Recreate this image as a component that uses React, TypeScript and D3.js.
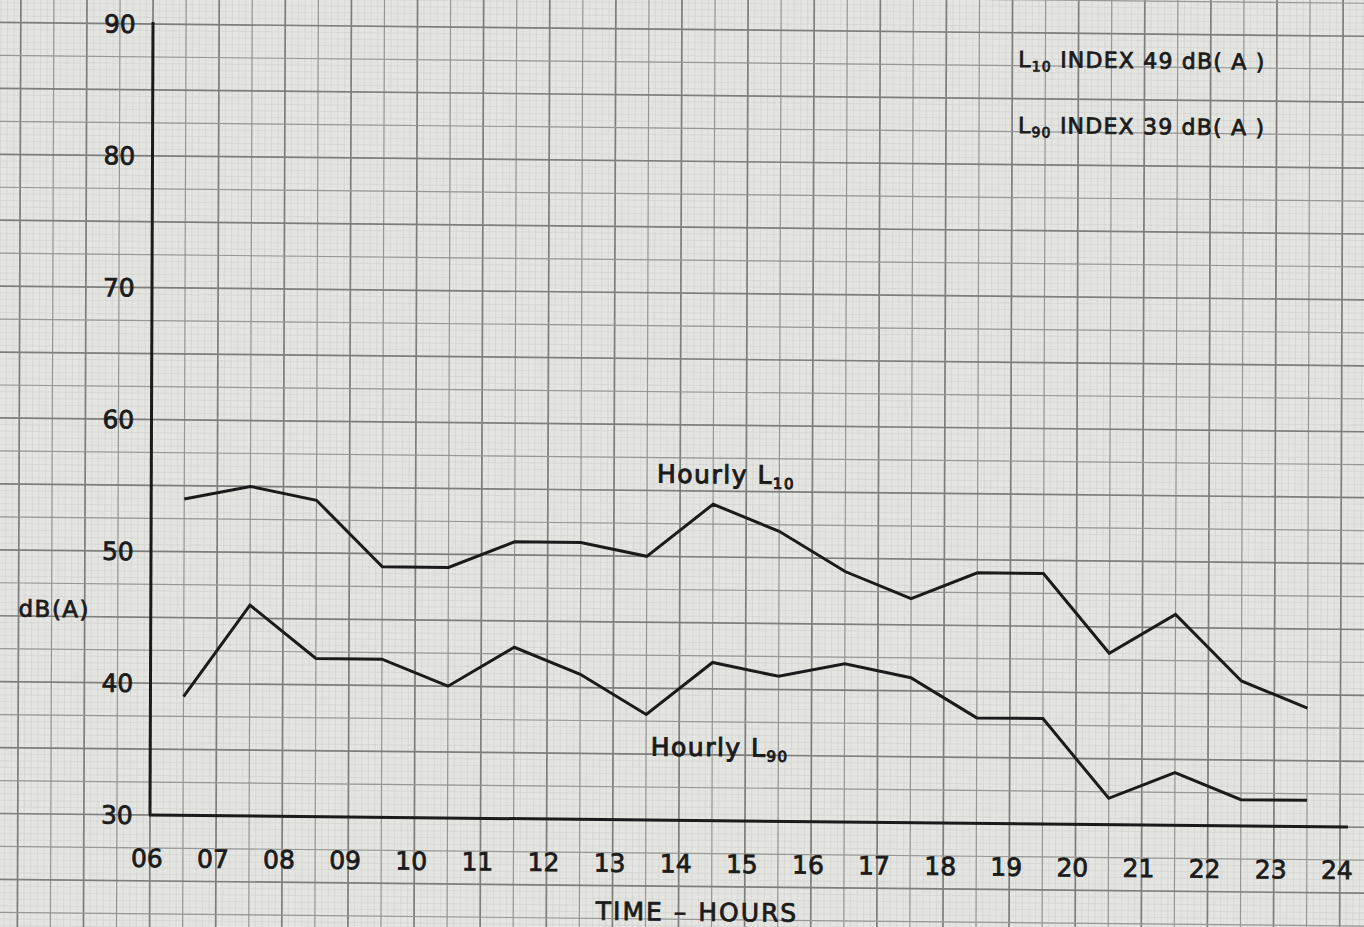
import * as d3 from 'd3';

// hourly sample midpoints (hours of day)
const hours = [6.5, 7.5, 8.5, 9.5, 10.5, 11.5, 12.5, 13.5, 14.5, 15.5, 16.5, 17.5, 18.5, 19.5, 20.5, 21.5, 22.5, 23.5];
// Hourly L10, dB(A)
const l10 = [54, 55, 54, 49, 49, 51, 51, 50, 54, 52, 49, 47, 49, 49, 43, 46, 41, 39];
// Hourly L90, dB(A)
const l90 = [39, 46, 42, 42, 40, 43, 41, 38, 42, 41, 42, 41, 38, 38, 32, 34, 32, 32];

const hourTicks = ['06', '07', '08', '09', '10', '11', '12', '13', '14', '15', '16', '17', '18', '19', '20', '21', '22', '23', '24'];
const dbTicks = [30, 40, 50, 60, 70, 80, 90];

const W = 1364;
const H = 927;
const FONT = '"DejaVu Sans", "Liberation Sans", sans-serif';
const INK = '#1b1b1b';

export default function App() {
  const x = d3.scaleLinear().domain([6, 24]).range([150, 1340]);
  const y = d3.scaleLinear().domain([30, 90]).range([815, 24]);

  const line = d3.line<number>()
    .x((_, i) => x(hours[i]))
    .y(d => y(d));

  // graph paper: fine 1mm, medium 5mm, bold 1cm
  const fineX = d3.range(30, 256).map(v => v / 10);
  const fineY = d3.range(40, 200).map(v => v / 2);
  const midX = d3.range(6, 52).map(v => v / 2);
  const midY = d3.range(8, 40).map(v => v * 2.5);

  const [x0, x1] = [x(2.5), x(26)];
  const [y0, y1] = [y(100), y(18)];

  // the photographed sheet is slightly skewed
  const skew = `translate(150,815) matrix(1,0.0101,-0.0038,1,0,0) translate(-150,-815)`;

  return (
    <svg width={W} height={H} style={{ position: 'fixed', left: 0, top: 0, background: '#e4e4e1' }}>
      <rect width={W} height={H} fill="#e4e4e1" />
      <g transform={skew}>
        <g stroke="#d3d3d0" strokeWidth={0.7}>
          {fineX.map(h => <line key={'fx' + h} x1={x(h)} x2={x(h)} y1={y0} y2={y1} />)}
          {fineY.map(v => <line key={'fy' + v} x1={x0} x2={x1} y1={y(v)} y2={y(v)} />)}
        </g>
        <g>
          {midX.map(h => (
            <line key={'mx' + h} x1={x(h)} x2={x(h)} y1={y0} y2={y1}
              strokeWidth={Number.isInteger(h) ? 1.7 : 1.2}
              stroke={Number.isInteger(h) ? '#7e7e7c' : '#979795'} />
          ))}
          {midY.map(v => (
            <line key={'my' + v} x1={x0} x2={x1} y1={y(v)} y2={y(v)}
              strokeWidth={v % 5 === 0 ? 1.7 : 1.2}
              stroke={v % 5 === 0 ? '#7e7e7c' : '#979795'} />
          ))}
        </g>

        {/* axes */}
        <g stroke={INK} strokeWidth={3} fill="none">
          <line x1={x(6)} x2={x(6)} y1={y(90) - 2} y2={y(30)} />
          <line x1={x(6) - 1} x2={x(24.12)} y1={y(30)} y2={y(30)} />
        </g>

        {/* tick labels */}
        <g fontFamily={FONT} fontSize={25} fill={INK} stroke={INK} strokeWidth={0.8}>
          {dbTicks.map(v => (
            <text key={'yt' + v} x={x(5.74)} y={y(v) + 9} textAnchor="end">{v}</text>
          ))}
          {hourTicks.map(t => (
            <text key={'xt' + t} x={x(+t) - 3} y={y(30) + 52} textAnchor="middle">{t}</text>
          ))}
          <text x={x(14.28)} y={y(22.4)} textAnchor="middle" letterSpacing={2}>TIME – HOURS</text>
          <text x={x(4.0)} y={y(44.95)} fontSize={23} letterSpacing={1.5}>dB(A)</text>
        </g>

        {/* series */}
        <g fill="none" stroke={INK} strokeWidth={3} strokeLinejoin="miter">
          <path d={line(l10) ?? ''} />
          <path d={line(l90) ?? ''} />
        </g>

        {/* annotations */}
        <g fontFamily={FONT} fill={INK} stroke={INK} strokeWidth={1}>
          <text x={x(13.65)} y={y(55.6)} fontSize={25} letterSpacing={1.5}>
            Hourly  L<tspan fontSize={15} dy={5}>10</tspan>
          </text>
          <text x={x(13.57)} y={y(34.9)} fontSize={25} letterSpacing={1.5}>
            Hourly  L<tspan fontSize={15} dy={5}>90</tspan>
          </text>
        </g>
        <g fontFamily={FONT} fill={INK} stroke={INK} strokeWidth={0.8} fontSize={22} letterSpacing={1.2}>
          <text x={x(19.09)} y={y(87.4)}>
            L<tspan fontSize={14} dy={4}>10</tspan><tspan dy={-4}> INDEX  49 dB( A )</tspan>
          </text>
          <text x={x(19.09)} y={y(82.4)}>
            L<tspan fontSize={14} dy={4}>90</tspan><tspan dy={-4}> INDEX  39 dB( A )</tspan>
          </text>
        </g>
      </g>
    </svg>
  );
}
